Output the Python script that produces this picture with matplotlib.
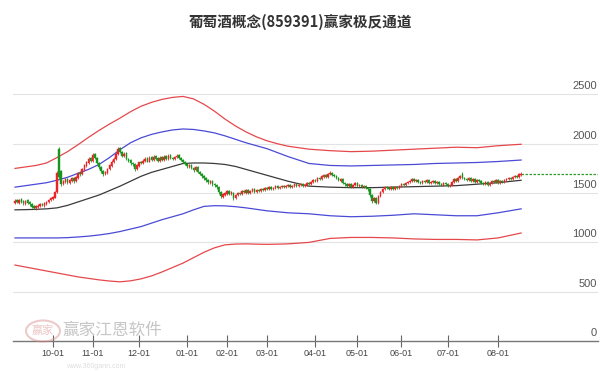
import matplotlib
matplotlib.use("Agg")
import matplotlib.pyplot as plt
import matplotlib.transforms as mtransforms
from matplotlib.patches import Circle
import numpy as np

plt.rcParams['font.family'] = ['Noto Sans CJK SC', 'DejaVu Sans']

title = "葡萄酒概念(859391)赢家极反通道"

opens = [1400,1425,1400,1435,1415,1390,1425,1405,1390,1365,
 1345,1360,1365,1390,1370,1390,1405,1425,1440,1455,
 1515,1950,1720,1590,1615,1645,1605,1625,1655,1620,
 1655,1705,1690,1735,1775,1805,1855,1830,1895,1860,
 1800,1760,1720,1690,1705,1740,1775,1815,1845,1895,
 1955,1920,1875,1905,1850,1835,1805,1790,1740,1775,
 1815,1800,1825,1855,1820,1865,1840,1875,1855,1830,
 1865,1840,1875,1850,1885,1860,1850,1865,1885,1860,
 1840,1815,1790,1765,1785,1755,1730,1760,1715,1695,
 1670,1655,1630,1605,1625,1595,1585,1560,1510,1465,
 1485,1495,1520,1490,1505,1450,1480,1505,1490,1520,
 1505,1530,1500,1520,1540,1510,1530,1520,1540,1530,
 1550,1540,1560,1545,1555,1570,1550,1560,1575,1560,
 1570,1580,1560,1575,1590,1570,1580,1595,1575,1585,
 1600,1590,1610,1635,1620,1655,1640,1665,1685,1660,
 1690,1705,1685,1670,1655,1625,1645,1605,1595,1570,
 1595,1560,1580,1600,1570,1580,1560,1570,1550,1540,
 1480,1420,1450,1400,1470,1510,1540,1560,1550,1540,
 1560,1545,1565,1555,1570,1590,1580,1600,1610,1620,
 1640,1620,1630,1610,1600,1620,1610,1630,1600,1610,
 1620,1600,1610,1590,1580,1600,1590,1570,1580,1610,
 1640,1620,1650,1690,1650,1640,1630,1650,1620,1640,
 1610,1630,1620,1600,1590,1610,1580,1600,1620,1610,
 1630,1600,1620,1610,1630,1640,1650,1640,1660,1670,
 1660,1680]

closes = [1420,1405,1430,1410,1395,1420,1400,1385,1360,1350,
 1365,1370,1385,1375,1395,1410,1430,1445,1460,1510,
 1700,1660,1590,1620,1640,1610,1630,1650,1620,1660,
 1700,1690,1740,1780,1810,1850,1830,1890,1860,1800,
 1760,1720,1690,1710,1740,1780,1820,1850,1900,1950,
 1920,1880,1900,1850,1830,1800,1790,1740,1780,1810,
 1800,1830,1850,1820,1860,1840,1870,1850,1830,1860,
 1840,1870,1850,1880,1860,1850,1870,1880,1860,1840,
 1810,1790,1770,1780,1750,1730,1760,1710,1690,1670,
 1650,1630,1610,1620,1590,1580,1560,1510,1470,1490,
 1500,1520,1490,1510,1450,1480,1500,1490,1520,1510,
 1530,1500,1520,1540,1510,1530,1520,1540,1530,1550,
 1540,1560,1545,1555,1570,1550,1560,1575,1560,1570,
 1580,1560,1575,1590,1570,1580,1595,1575,1585,1600,
 1590,1610,1630,1620,1650,1640,1670,1680,1660,1690,
 1700,1680,1670,1650,1630,1640,1600,1590,1570,1590,
 1560,1580,1600,1570,1580,1560,1570,1550,1540,1480,
 1420,1450,1400,1470,1510,1540,1560,1550,1540,1560,
 1545,1565,1555,1570,1590,1580,1600,1610,1620,1640,
 1620,1630,1610,1600,1620,1610,1630,1600,1610,1620,
 1600,1610,1590,1580,1600,1590,1570,1580,1610,1640,
 1620,1650,1670,1650,1640,1630,1650,1620,1640,1610,
 1630,1620,1600,1590,1610,1580,1600,1620,1610,1630,
 1600,1620,1610,1630,1640,1650,1640,1660,1670,1660,
 1690,1695]

highs = [1435,1440,1440,1445,1425,1430,1435,1415,1395,1375,
 1375,1385,1395,1400,1405,1420,1440,1460,1475,1525,
 1720,1965,1735,1635,1655,1655,1645,1665,1665,1670,
 1715,1720,1750,1795,1825,1865,1870,1905,1905,1870,
 1810,1770,1730,1725,1755,1790,1835,1865,1915,1970,
 1965,1930,1915,1915,1860,1845,1815,1800,1790,1820,
 1825,1845,1865,1865,1875,1875,1885,1885,1865,1875,
 1875,1885,1885,1895,1895,1870,1880,1895,1895,1870,
 1850,1825,1800,1795,1795,1765,1770,1770,1725,1705,
 1680,1665,1640,1635,1635,1605,1595,1570,1520,1505,
 1515,1535,1530,1525,1515,1495,1515,1515,1530,1530,
 1540,1540,1530,1550,1550,1540,1540,1550,1550,1560,
 1560,1570,1570,1565,1580,1580,1570,1585,1585,1580,
 1590,1590,1585,1600,1600,1590,1605,1605,1595,1610,
 1610,1620,1640,1645,1660,1665,1680,1695,1695,1705,
 1720,1715,1695,1680,1665,1650,1655,1615,1605,1600,
 1605,1590,1610,1610,1590,1590,1580,1580,1560,1550,
 1490,1465,1460,1480,1520,1550,1570,1570,1560,1570,
 1570,1575,1575,1580,1600,1600,1610,1625,1635,1655,
 1650,1640,1640,1620,1630,1630,1640,1640,1620,1630,
 1630,1620,1620,1600,1610,1610,1600,1590,1620,1650,
 1650,1660,1685,1710,1660,1650,1660,1660,1650,1650,
 1640,1640,1630,1610,1620,1620,1610,1630,1630,1640,
 1640,1630,1630,1640,1650,1660,1660,1670,1680,1680,
 1700,1710]

lows = [1390,1395,1390,1400,1380,1380,1390,1370,1345,1335,
 1330,1350,1355,1365,1360,1380,1395,1415,1430,1445,
 1505,1640,1575,1580,1600,1595,1595,1615,1605,1610,
 1645,1675,1680,1725,1765,1795,1815,1820,1845,1790,
 1745,1705,1675,1680,1695,1730,1765,1805,1835,1885,
 1905,1865,1865,1840,1815,1785,1775,1725,1730,1765,
 1790,1790,1815,1810,1810,1830,1830,1840,1820,1820,
 1830,1830,1840,1840,1850,1840,1840,1855,1850,1830,
 1800,1780,1755,1755,1740,1715,1720,1700,1680,1655,
 1635,1615,1595,1595,1575,1565,1545,1495,1455,1455,
 1475,1485,1480,1480,1425,1440,1470,1480,1480,1500,
 1495,1490,1490,1510,1500,1500,1510,1510,1520,1520,
 1530,1530,1535,1535,1545,1540,1540,1550,1550,1550,
 1560,1550,1550,1565,1560,1560,1570,1565,1565,1575,
 1580,1580,1600,1610,1610,1630,1630,1655,1650,1650,
 1680,1670,1660,1640,1620,1615,1590,1575,1560,1560,
 1550,1550,1570,1560,1560,1550,1550,1540,1525,1465,
 1400,1405,1385,1390,1460,1500,1530,1540,1530,1530,
 1535,1535,1545,1545,1560,1570,1570,1590,1600,1610,
 1610,1610,1600,1590,1590,1600,1600,1590,1590,1600,
 1590,1590,1580,1570,1570,1580,1560,1560,1570,1600,
 1610,1610,1640,1640,1630,1620,1620,1610,1610,1600,
 1600,1610,1590,1580,1580,1570,1570,1590,1600,1600,
 1590,1590,1600,1600,1620,1630,1630,1630,1650,1650,
 1650,1670]

# channel lines, read at candle indices
chan_idx   = [0,5,10,15,20,25,30,35,40,45,50,55,60,65,70,75,80,85,90,95,100,105,110,115,120,125,130,
              140,150,160,170,180,190,200,210,220,230,241]
red_upper  = [1750,1765,1780,1805,1860,1920,1990,2065,2135,2200,2260,2325,2380,2420,2450,2470,2480,2455,2400,2330,2250,2180,2120,2070,2030,2000,1975,
              1945,1930,1920,1925,1935,1945,1955,1965,1960,1980,1995]
blue_upper = [1560,1575,1590,1605,1630,1660,1700,1740,1790,1860,1940,2010,2060,2095,2120,2140,2150,2145,2130,2110,2080,2045,2010,1980,1950,1910,1870,
              1800,1780,1775,1780,1785,1790,1800,1805,1810,1820,1835]
middle     = [1330,1332,1335,1340,1350,1375,1410,1445,1480,1525,1570,1620,1670,1710,1740,1770,1800,1805,1805,1800,1790,1770,1740,1710,1680,1650,1620,
              1570,1560,1555,1555,1560,1565,1570,1575,1590,1605,1630]
blue_lower = [1045,1045,1045,1045,1045,1048,1055,1063,1075,1090,1110,1135,1160,1195,1230,1260,1290,1330,1365,1372,1370,1362,1350,1335,1320,1310,1300,
              1290,1270,1260,1265,1275,1290,1280,1270,1270,1300,1340]
red_lower  = [770,750,730,710,690,670,650,635,620,608,600,610,630,660,700,745,790,845,900,945,975,983,985,982,980,982,985,
              1000,1040,1050,1050,1045,1035,1030,1030,1025,1045,1095]

# month start positions (candle index) and labels
tick_pos    = [18, 37, 59, 82, 101, 120, 143, 163, 184, 206, 230]
tick_labels = ["10-01","11-01","12-01","01-01","02-01","03-01","04-01","05-01","06-01","07-01","08-01"]
y_ticks = [0, 500, 1000, 1500, 2000, 2500]

assert len(opens) == len(closes) == len(highs) == len(lows)

W, H = 600, 371
fig = plt.figure(figsize=(W/100, H/100), dpi=100)
ax = fig.add_axes([13/W, 30/H, 585/W, 286/H])
ax.set_xlim(-0.95, 277.6)
ax.set_ylim(0, 2900)

for v in y_ticks[1:]:
    ax.axhline(v, color='#e3e3e3', lw=0.8, zorder=0)

bt = mtransforms.blended_transform_factory(ax.transAxes, ax.transData)
for v in y_ticks:
    ax.text(0.998, v + 30, str(v), transform=bt, ha='right', va='bottom',
            fontsize=8, color='#555555', family=['Liberation Sans', 'DejaVu Sans'])

x = np.arange(len(closes))
o = np.array(opens); c = np.array(closes); h = np.array(highs); l = np.array(lows)
up = c >= o
red = '#e8262a'
green = '#17951f'
cols = np.where(up, red, green)
ax.vlines(x, l, h, colors=cols, lw=0.6, zorder=3)
body_b = np.minimum(o, c)
body_h = np.maximum(np.abs(c - o), 6)
ax.bar(x, body_h, bottom=body_b, width=0.72, color=cols, edgecolor=cols, lw=0.3, zorder=4)

lw = 0.9
for vals, col in [(red_upper, '#e5484b'), (blue_upper, '#4a4ad6'), (middle, '#3a3a3a'),
                  (blue_lower, '#4a4ad6'), (red_lower, '#e5484b')]:
    ax.plot(chan_idx, vals, color=col, lw=lw, zorder=2, solid_joinstyle='round')

ax.plot([len(closes) - 1, 277.6], [closes[-1], closes[-1]], color='#2f9e2f',
        lw=0.9, ls=(0, (2, 1.2)), zorder=2)

for s in ['top', 'right', 'left']:
    ax.spines[s].set_visible(False)
ax.spines['bottom'].set_color('#777777')
ax.spines['bottom'].set_linewidth(1.0)
ax.set_yticks([])
ax.set_xticks(tick_pos)
ax.set_xticklabels(tick_labels, fontsize=6.5, color='#444444',
                   family=['Liberation Sans', 'DejaVu Sans'])
ax.tick_params(axis='x', direction='inout', length=8, width=0.8, color='#666666', pad=2)

fig.text(0.5, 1 - 22/H, title, ha='center', va='center', fontsize=10.5,
         fontweight='bold', color='#333333')

# watermark
logo = Circle((43/W, 1 - 331/H), 17/W, transform=fig.transFigure, fill=False,
              edgecolor='#d98a8a', lw=1.5, alpha=0.45)
fig.add_artist(logo)
fig.text(43/W, 1 - 331/H, "赢家", ha='center', va='center', fontsize=8,
         color='#d98a8a', alpha=0.5)
fig.text(62/W, 1 - 330/H, "赢家江恩软件", ha='left', va='center', fontsize=12,
         color='#b8b8b8', alpha=0.8)
fig.text(66/W, 1 - 366/H, "www.360gann.com", ha='left', va='center', fontsize=5,
         color='#d0d0d0', alpha=0.7, family=['Liberation Sans', 'DejaVu Sans'])

fig.savefig("out.png", dpi=100)
